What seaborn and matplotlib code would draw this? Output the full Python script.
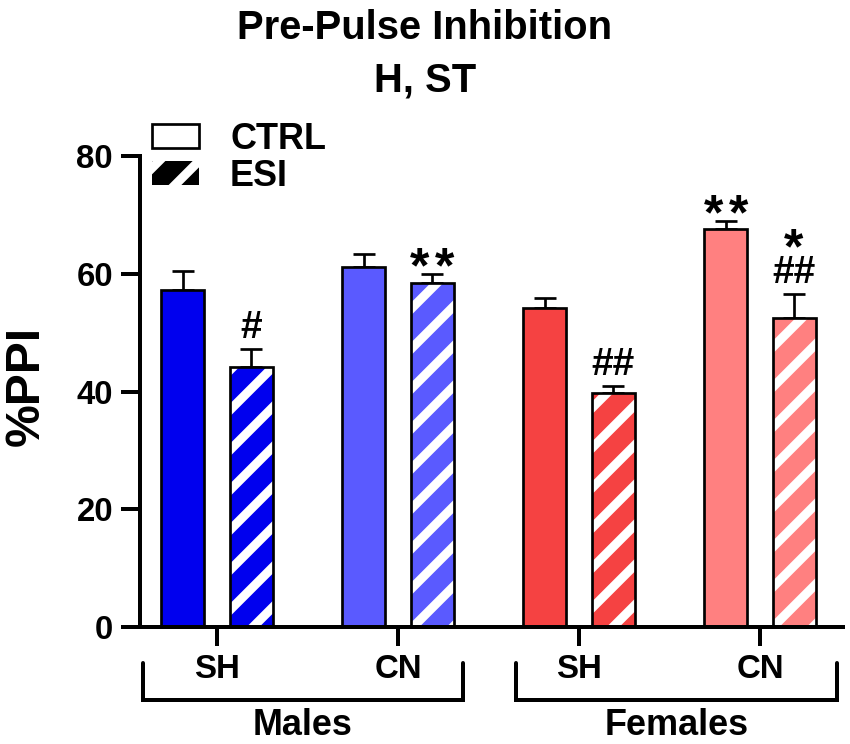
import numpy as np
import pandas as pd
import matplotlib
matplotlib.use("Agg")
import matplotlib.pyplot as plt
import seaborn as sns
from matplotlib.patches import Patch, Rectangle

# ---------------- data ----------------
groups = ["Males SH", "Males CN", "Females SH", "Females CN"]
housing = ["SH", "CN", "SH", "CN"]
sexes = ["Males", "Females"]
conditions = ["CTRL", "ESI"]
ctrl_mean = [57.2, 61.2, 54.2, 67.6]
ctrl_sem = [3.2, 2.1, 1.6, 1.3]
esi_mean = [44.2, 58.5, 39.7, 52.4]
esi_sem = [3.1, 1.4, 1.2, 4.1]
group_colors = ["#0000EE", "#5A5AFF", "#F54242", "#FF8080"]
ctrl_marks = ["", "", "", "**"]
esi_marks = ["#", "**", "##", "##"]
esi_marks_top = ["", "", "", "*"]
yticks = [0, 20, 40, 60, 80]

# ---------------- style ----------------
DPI = 120
PX = 72.0 / DPI  # points per pixel
sns.set_style("ticks")
plt.rcParams["font.family"] = ["Liberation Sans", "DejaVu Sans"]
plt.rcParams["font.weight"] = "bold"
plt.rcParams["text.color"] = "black"
plt.rcParams["axes.labelcolor"] = "black"
plt.rcParams["axes.edgecolor"] = "black"
plt.rcParams["xtick.color"] = "black"
plt.rcParams["ytick.color"] = "black"
plt.rcParams["xtick.labelcolor"] = "black"
plt.rcParams["ytick.labelcolor"] = "black"
plt.rcParams["hatch.linewidth"] = 9 * PX
plt.rcParams["hatch.color"] = "white"

df = pd.DataFrame({
    "group": groups * 2,
    "cond": [conditions[0]] * 4 + [conditions[1]] * 4,
    "value": ctrl_mean + esi_mean,
})

fig = plt.figure(figsize=(850 / DPI, 744 / DPI), dpi=DPI)
ax = fig.add_axes([140 / 850, 1 - 627 / 744, (843 - 140) / 850, (627 - 156) / 744])

sns.barplot(data=df, x="group", y="value", hue="cond", order=groups,
            hue_order=conditions, width=0.752, gap=0.368, errorbar=None,
            legend=False, palette=["white", "white"], ax=ax)

edge_lw = 2.7 * PX
ctrl_bars = list(ax.containers[0])
esi_bars = list(ax.containers[1])
for i, p in enumerate(ctrl_bars):
    p.set_facecolor(group_colors[i])
    p.set_edgecolor("black")
    p.set_linewidth(edge_lw)
    p.set_zorder(2)
for i, p in enumerate(esi_bars):
    p.set_facecolor(group_colors[i])
    p.set_edgecolor("white")
    p.set_linewidth(0)
    p.set_hatch("/")
    p.set_zorder(2)
    ax.add_patch(Rectangle(p.get_xy(), p.get_width(), p.get_height(),
                           fill=False, edgecolor="black", linewidth=edge_lw,
                           zorder=2.5))

# error bars (upper only)
def add_err(bars, means, sems):
    xs = [p.get_x() + p.get_width() / 2 for p in bars]
    ax.errorbar(xs, means, yerr=[np.zeros(len(sems)), sems], fmt="none",
                ecolor="black", elinewidth=2.7 * PX, capsize=11 * PX,
                capthick=2.7 * PX, zorder=1.5)
    return xs

ctrl_x = add_err(ctrl_bars, ctrl_mean, ctrl_sem)
esi_x = add_err(esi_bars, esi_mean, esi_sem)

# significance marks
def mark(x, y, txt, dy_px):
    if not txt:
        return
    if set(txt) == {"*"}:
        n = len(txt)
        for k in range(n):
            dx = (k - (n - 1) / 2) * 25
            ax.annotate("*", xy=(x, y), xytext=(dx * PX, dy_px * PX),
                        textcoords="offset points", ha="center", va="baseline",
                        fontsize=50 * PX, fontweight="bold", color="black",
                        annotation_clip=False)
    else:
        ax.annotate(txt, xy=(x, y), xytext=(0, dy_px * PX), textcoords="offset points",
                    ha="center", va="baseline", fontsize=39 * PX,
                    fontweight="bold", color="black", annotation_clip=False)

for i in range(4):
    top_c = ctrl_mean[i] + ctrl_sem[i]
    top_e = esi_mean[i] + esi_sem[i]
    m = ctrl_marks[i]
    mark(ctrl_x[i], top_c, m, -8 if m.startswith("*") else 11)
    m = esi_marks[i]
    mark(esi_x[i], top_e, m, -8 if m.startswith("*") else 11)
    mark(esi_x[i], top_e, esi_marks_top[i], 31)

# axes styling
ax.set_ylim(0, 80)
ax.set_xlim((140 - 217) / 181, (843 - 217) / 181)
ax.set_yticks(yticks)
ax.set_yticklabels([str(v) for v in yticks])
ax.set_xticks(range(len(groups)))
ax.set_xticklabels(housing)
ax.set_xlabel("")
ax.set_ylabel("")
for s in ["top", "right"]:
    ax.spines[s].set_visible(False)
for s in ["left", "bottom"]:
    ax.spines[s].set_linewidth(4 * PX)
    ax.spines[s].set_color("black")
ax.tick_params(axis="both", length=19 * PX, width=4 * PX, color="black",
               labelcolor="black", labelsize=33 * PX)
ax.tick_params(axis="y", pad=8 * PX)
ax.tick_params(axis="x", pad=8 * PX)
for lab in ax.get_xticklabels() + ax.get_yticklabels():
    lab.set_fontweight("bold")

# group brackets
bracket_pad = [(-0.41, 0.36), (-0.35, 0.425)]
trans = ax.get_xaxis_transform()
y_top = (627 - 663) / 471
y_bot = (627 - 700) / 471
y_txt = (627 - 735) / 471
for k, sex in enumerate(sexes):
    x0 = 2 * k + bracket_pad[k][0]
    x1 = 2 * k + 1 + bracket_pad[k][1]
    ax.plot([x0, x0, x1, x1], [y_top, y_bot, y_bot, y_top], color="black",
            lw=4 * PX, transform=trans, clip_on=False, solid_joinstyle="miter")
    ax.text((x0 + x1) / 2, y_txt, sex, transform=trans, ha="center",
            va="baseline", fontsize=36 * PX, fontweight="bold", color="black")

# y label
fig.text(26 / 850, 1 - 386 / 744, "%PPI", rotation=90, ha="center", va="center",
         fontsize=48 * PX, fontweight="bold", color="black")

# title
fig.text(0.5, 1 - 39 / 744, "Pre-Pulse Inhibition", ha="center", va="baseline",
         fontsize=40 * PX, fontweight="bold", color="black")
fig.text(0.5, 1 - 91 / 744, "H, ST", ha="center", va="baseline",
         fontsize=40 * PX, fontweight="bold", color="black")

# legend
handles = [Patch(facecolor="white", edgecolor="black", linewidth=2.7 * PX),
           Patch(facecolor="black", edgecolor="white", linewidth=0, hatch="/")]
fs_leg = 36
fig.legend(handles, conditions, loc="upper left",
           bbox_to_anchor=(152 / 850, 1 - 122 / 744), frameon=False,
           borderpad=0, borderaxespad=0,
           handlelength=47 / fs_leg, handleheight=23 / fs_leg,
           handletextpad=31 / fs_leg, labelspacing=0.05, labelcolor="black",
           prop={"weight": "bold", "size": fs_leg * PX})

fig.savefig("out.png", dpi=DPI)
